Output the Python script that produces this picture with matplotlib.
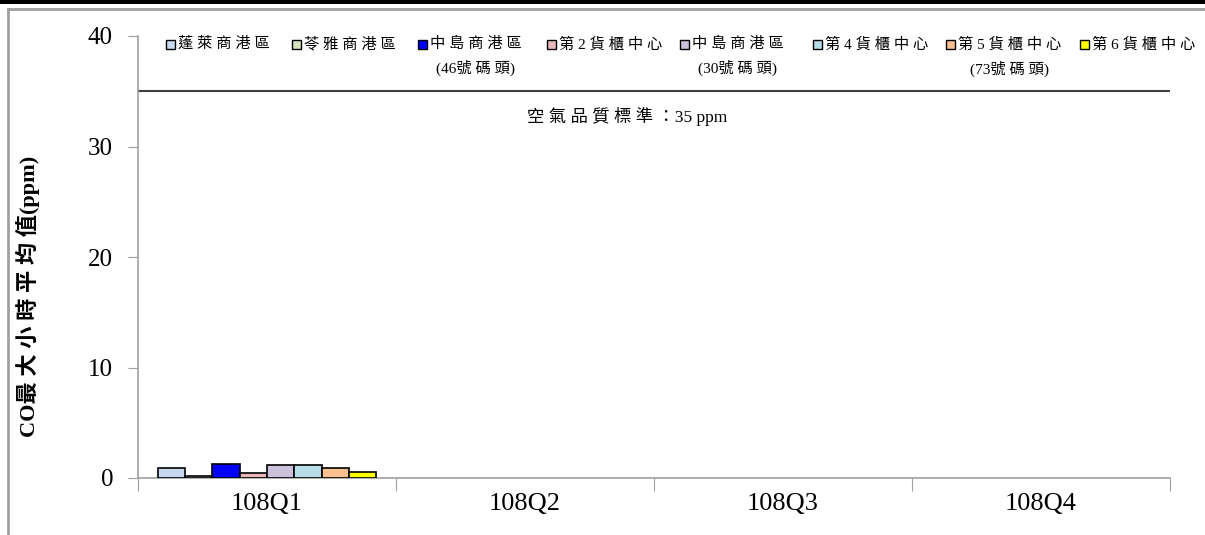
import numpy as np
import matplotlib
matplotlib.use("Agg")
import matplotlib.pyplot as plt
from matplotlib.patches import Rectangle
from matplotlib.lines import Line2D

plt.rcParams['font.family'] = ['Liberation Serif', 'Noto Sans CJK TC', 'DejaVu Sans']

quarters = ['108Q1', '108Q2', '108Q3', '108Q4']
stations = ['蓬萊商港區', '苓雅商港區', '中島商港區\n(46號碼頭)', '第2貨櫃中心',
            '中島商港區\n(30號碼頭)', '第4貨櫃中心', '第5貨櫃中心\n(73號碼頭)', '第6貨櫃中心']
colors = ['#c6d9f1', '#d7e4bd', '#0000ff', '#e6b9b8',
          '#ccc1da', '#b7dee8', '#fac090', '#ffff00']
nan = np.nan
values = [
    [0.9, nan, nan, nan],
    [0.15, nan, nan, nan],
    [1.27, nan, nan, nan],
    [0.45, nan, nan, nan],
    [1.15, nan, nan, nan],
    [1.2, nan, nan, nan],
    [0.9, nan, nan, nan],
    [0.57, nan, nan, nan],
]
standard = 35
std_label = '空氣品質標準：35 ppm'

W, H = 1205, 535


def is_cjk(c):
    return ord(c) > 0x2e80


def spaced(s):
    # wide letter spacing like the original legend
    lines = s.split('\n')
    out = [' '.join(lines[0])]
    for line in lines[1:]:
        t = line[0]
        for a, b in zip(line, line[1:]):
            t += (' ' if is_cjk(a) and is_cjk(b) else '') + b
        out.append(t)
    return '\n'.join(out)


fig = plt.figure(figsize=(W / 100, H / 100), dpi=100)
ax = fig.add_axes([138 / W, 1 - 478 / H, 1032 / W, 442 / H])

x = np.arange(len(quarters))
n = len(stations)
w = 0.106
for i in range(n):
    ax.bar(x + (i - (n - 1) / 2) * w, values[i], width=w, color=colors[i],
           edgecolor='black', linewidth=1.2, zorder=3)

ax.axhline(standard, color='#404040', lw=1.5, zorder=2)
ax.text(1.395, 32.75, ' '.join(std_label[:7]) + std_label[7:], ha='center', va='center',
        fontsize=12.5)

ax.set_xlim(-0.5, len(quarters) - 0.5)
ax.set_ylim(0, 40)
ax.set_yticks([0, 10, 20, 30, 40])
ax.set_xticks(np.arange(len(quarters) + 1) - 0.5)
ax.set_xticklabels([])
ax.set_xticks(x, minor=True)
ax.set_xticklabels(quarters, minor=True, fontsize=19)
ax.tick_params(axis='x', which='major', length=9, color='#a0a0a0', direction='out')
ax.tick_params(axis='x', which='minor', length=0, pad=11)
ax.tick_params(axis='y', length=7, color='#a0a0a0', labelsize=18, pad=11)

for s in ['top', 'right']:
    ax.spines[s].set_visible(False)
for s in ['left', 'bottom']:
    ax.spines[s].set_color('#a0a0a0')
    ax.spines[s].set_linewidth(1.2)

ax.set_ylabel('CO最 大 小 時 平 均 值(ppm)', fontsize=16, fontweight='bold')
ax.yaxis.set_label_coords(-0.095, 0.41)

# legend drawn by hand so single-line and two-line entries share the top row
leg_x = [166, 292, 418, 547, 680, 813, 946, 1080]
for i in range(n):
    sx = leg_x[i]
    fig.add_artist(Rectangle((sx / W, 1 - 49 / H), 9 / W, 9 / H, transform=fig.transFigure,
                             facecolor=colors[i], edgecolor='black', lw=1.0))
    fig.text((sx + 12) / W, 1 - 37 / H, spaced(stations[i]), ha='left', va='top',
             fontsize=11, multialignment='center', linespacing=1.7)

# frame around the picture
fig.add_artist(Rectangle((0, 1 - 4 / H), 1, 4 / H, transform=fig.transFigure,
                         color='black', lw=0))
fig.add_artist(Line2D([8 / W, 1], [1 - 9 / H, 1 - 9 / H], transform=fig.transFigure,
                      color='#a0a0a0', lw=2))
fig.add_artist(Line2D([8 / W, 8 / W], [0, 1 - 9 / H], transform=fig.transFigure,
                      color='#a0a0a0', lw=2))

fig.savefig('out.png', dpi=100)
